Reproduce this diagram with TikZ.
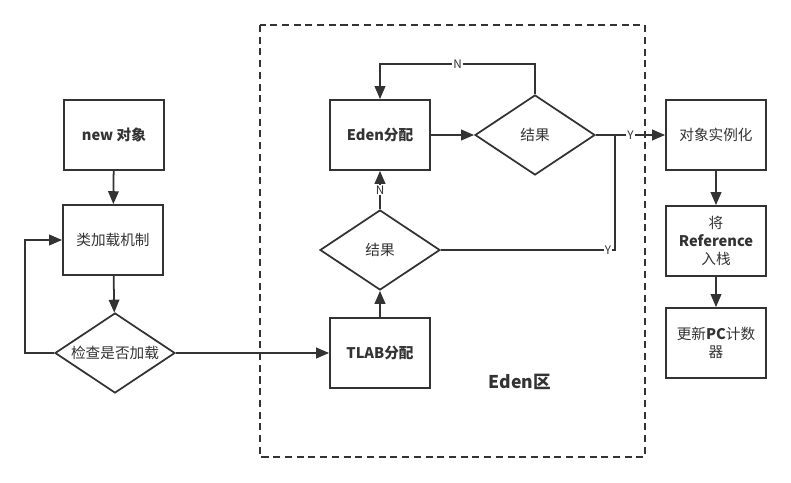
\documentclass[tikz,border=0pt]{standalone}
\usepackage{fontspec}
\setmainfont{Noto Sans CJK SC}
\usepackage{xcolor}
\usetikzlibrary{shapes.geometric, arrows.meta, positioning}
\definecolor{linegray}{HTML}{333333}

\begin{document}
\begin{tikzpicture}[
    x=0.03cm, y=-0.03cm,
    font=\fontsize{12.5}{15}\selectfont,
    box/.style={rectangle, draw=linegray, line width=1.5pt, minimum width=3cm, minimum height=2.1cm, align=center, text=linegray},
    decision/.style={diamond, draw=linegray, line width=1.5pt, aspect=1.5, minimum width=3.6cm, minimum height=2.4cm, inner sep=0pt, text=linegray},
    arrow/.style={line width=1.5pt, draw=linegray, -{Triangle[length=11pt, width=9pt]}},
    link/.style={line width=1.5pt, draw=linegray},
    tag/.style={fill=white, inner sep=1pt, text=linegray, font=\fontsize{10}{11}\selectfont}
]
\useasboundingbox (0,0) rectangle (791,483);

% Eden area
\draw[linegray, line width=1.2pt, dash pattern=on 6pt off 4pt] (260,25) rectangle (645,457);
\node[text=linegray, font=\fontsize{15}{17}\selectfont\bfseries] (edenlabel) at (520,382) {Eden区};

\node[box] (newobj) at (114,135) {\textbf{new 对象}};
\node[box] (loader) at (113,240) {类加载机制};
\node[decision] (check) at (115,353) {检查是否加载};
\coordinate (loopturn) at (25,353);

\node[box] (tlab) at (380,353) {\textbf{TLAB分配}};
\node[decision] (res2) at (380,250) {结果};
\node[box] (eden) at (380,135) {\textbf{Eden分配}};
\node[decision] (res1) at (535,135) {结果};
\coordinate (join) at (615,135);

\node[box] (init) at (716,135) {对象实例化};
\node[box] (push) at (716,241) {将\\\textbf{Reference}\\入栈};
\node[box] (pc) at (716,343) {更新\textbf{PC}计数\\器};

\draw[arrow] (newobj) -- (loader);
\draw[arrow] (loader) -- (check);
\draw[arrow] (check.west) -- (loopturn) |- (loader.west);
\draw[arrow] (check) -- (tlab);
\draw[arrow] (tlab) -- (res2);
\draw[arrow] (res2) -- node[tag] {N} (eden);
\draw[arrow] (eden) -- (res1);
\draw[arrow] (res1.north) -- ++(0,-30) -| node[tag, pos=0.25] {N} (eden.north);
\draw[arrow] (res1) -- node[tag] {Y} (init);
\draw[link] (res2.east) -| node[tag, pos=0.48] {Y} (join);
\draw[arrow] (init) -- (push);
\draw[arrow] (push) -- (pc);
\end{tikzpicture}
\end{document}
